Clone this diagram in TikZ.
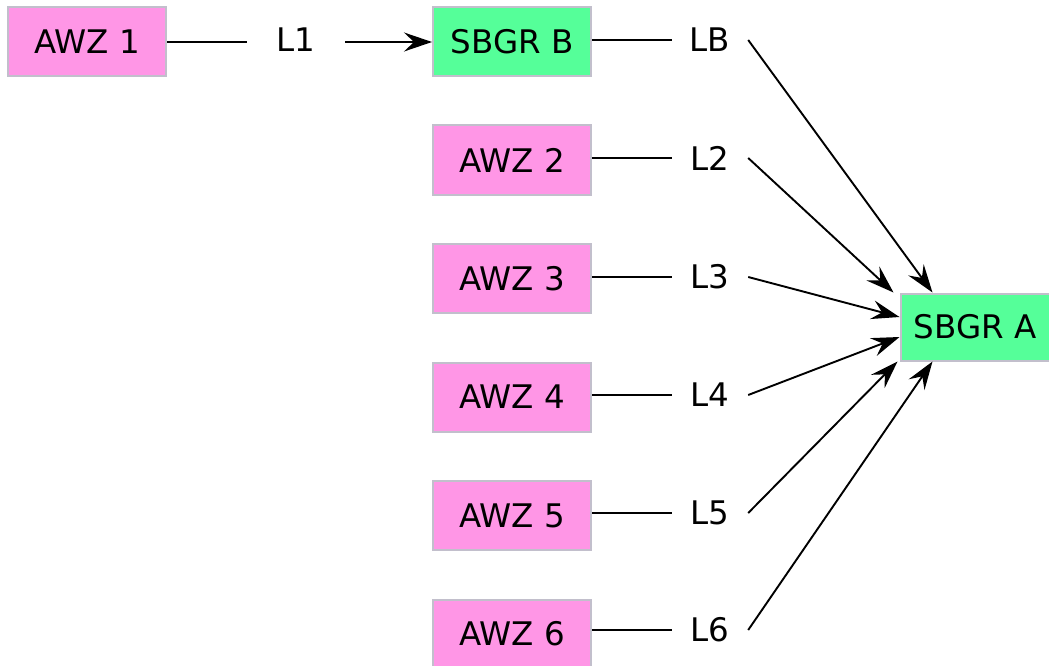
\documentclass[tikz,border=0pt]{standalone}
\usepackage{fontspec}
\setmainfont{DejaVu Sans}
\usetikzlibrary{arrows.meta, positioning, calc}
\definecolor{awzPink}{HTML}{FF96E6}
\definecolor{sbgrGreen}{HTML}{55FF99}
\definecolor{boxGray}{HTML}{C2BFCC}

\tikzset{
  box/.style={draw=boxGray, line width=2pt, minimum width=158pt, minimum height=69pt,
    inner sep=0pt, font=\fontsize{32.5}{38}\selectfont},
  awz/.style={box, fill=awzPink},
  sbgr/.style={box, fill=sbgrGreen},
  lbl/.style={inner sep=0pt, minimum width=76pt, minimum height=30pt, font=\fontsize{32.5}{38}\selectfont},
  link/.style={line width=1.9pt},
  arr/.style={link, -{Stealth[length=28pt, width=19pt, inset=10pt]}},
}

\begin{document}
\begin{tikzpicture}[x=1pt, y=-1pt]
    \useasboundingbox (0,0) rectangle (1049,666);

    % Boxes
    \node[awz]  (a1) at (87,42)   {AWZ 1};
    \node[sbgr] (b)  at (512,42)  {SBGR B};
    \foreach \i/\y in {2/160, 3/278.5, 4/397, 5/515.5, 6/634}{
      \node[awz] (a\i) at (512,\y) {AWZ \i};
    }
    \node[sbgr, minimum width=149pt, minimum height=67pt] (sa) at (975,327) {SBGR A};

    % Edge labels
    \node[lbl, minimum width=98pt] (l1) at (296,40) {L1};
    \node[lbl] (lb) at (710,40) {LB};
    \foreach \i/\y in {2/158, 3/277, 4/395, 5/513, 6/630}{
      \node[lbl] (l\i) at (710,\y) {L\i};
    }

    % Connectors
    \draw[link] (a1.east) -- (a1.east -| l1.west);
    \draw[arr]  (l1.east |- b.west) -- (b.west);
    \draw[link] (b.east |- lb) -- (lb.west);
    \foreach \i in {2,...,6}{
      \draw[link] (a\i.east |- l\i) -- (l\i.west);
    }
    \draw[arr] (lb.east) -- ([xshift=33pt]sa.north west);
    \draw[arr] (l2.east) -- ([xshift=-6pt]sa.north west);
    \draw[arr] (l3.east) -- ([yshift=10pt]sa.west);
    \draw[arr] (l4.east) -- ([yshift=-10pt]sa.west);
    \draw[arr] (l5.east) -- ([xshift=-2pt]sa.south west);
    \draw[arr] (l6.east) -- ([xshift=33pt]sa.south west);
\end{tikzpicture}
\end{document}
